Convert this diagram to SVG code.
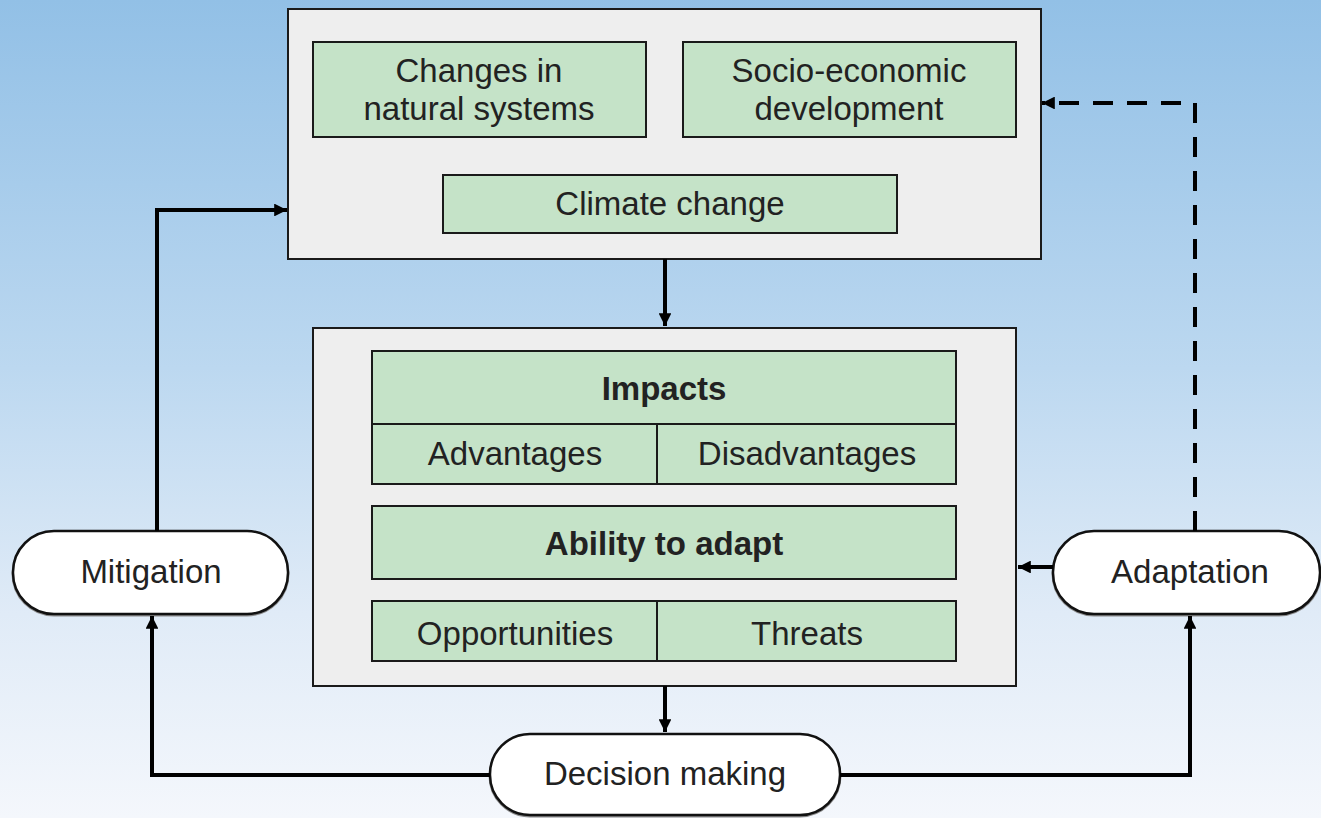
<svg xmlns="http://www.w3.org/2000/svg" width="1321" height="818" viewBox="0 0 1321 818">
  <defs>
    <linearGradient id="sky" x1="0" y1="0" x2="0" y2="1">
      <stop offset="0" stop-color="#92c0e6"/>
      <stop offset="0.45" stop-color="#bcd8f0"/>
      <stop offset="0.75" stop-color="#e0ebf7"/>
      <stop offset="1" stop-color="#f4f7fc"/>
    </linearGradient>
    <marker id="arrow" viewBox="0 0 10 10" refX="10" refY="5" markerWidth="3.2" markerHeight="3.2" markerUnits="strokeWidth" orient="auto">
      <path d="M0,0 L10,5 L0,10 z" fill="#000"/>
    </marker>
    <style>
      .container { fill: #eeeeee; stroke: #1a1a1a; stroke-width: 2; }
      .cell { fill: #c5e3c8; stroke: #1a1a1a; stroke-width: 2; }
      .pill { fill: #ffffff; stroke: #111; stroke-width: 2.5; }
      .pill-shadow { fill: none; stroke: #8a8a8a; stroke-width: 3; }
      .label { font-family: "Liberation Sans", Arial, sans-serif; font-size: 33px; fill: #222; text-anchor: middle; }
      .bold { font-weight: bold; }
      .conn { fill: none; stroke: #000; stroke-width: 4; }
      .dashed { stroke-dasharray: 20 14; }
    </style>
  </defs>

  <rect x="0" y="0" width="1321" height="818" fill="url(#sky)"/>

  <!-- Drivers block -->
  <g id="drivers">
    <rect class="container" x="288" y="9" width="753" height="250"/>
    <g id="natural-systems">
      <rect class="cell" x="313" y="42" width="333" height="95"/>
      <text class="label" x="479" y="82">Changes in</text>
      <text class="label" x="479" y="120">natural systems</text>
    </g>
    <g id="socio-economic">
      <rect class="cell" x="683" y="42" width="333" height="95"/>
      <text class="label" x="849" y="82">Socio-economic</text>
      <text class="label" x="849" y="120">development</text>
    </g>
    <g id="climate-change">
      <rect class="cell" x="443" y="175" width="454" height="58"/>
      <text class="label" x="670" y="215">Climate change</text>
    </g>
  </g>

  <!-- Assessment block -->
  <g id="assessment">
    <rect class="container" x="313" y="328" width="703" height="358"/>
    <g id="impacts">
      <rect class="cell" x="372" y="351" width="584" height="73"/>
      <text class="label bold" x="664" y="400">Impacts</text>
      <rect class="cell" x="372" y="424" width="285" height="60"/>
      <rect class="cell" x="657" y="424" width="299" height="60"/>
      <text class="label" x="515" y="465">Advantages</text>
      <text class="label" x="807" y="465">Disadvantages</text>
    </g>
    <g id="ability">
      <rect class="cell" x="372" y="506" width="584" height="73"/>
      <text class="label bold" x="664" y="555">Ability to adapt</text>
    </g>
    <g id="outcomes">
      <rect class="cell" x="372" y="601" width="285" height="60"/>
      <rect class="cell" x="657" y="601" width="299" height="60"/>
      <text class="label" x="515" y="645">Opportunities</text>
      <text class="label" x="807" y="645">Threats</text>
    </g>
  </g>

  <!-- Response nodes -->
  <g id="mitigation">
    <rect class="pill-shadow" x="13" y="533" width="275" height="82" rx="41"/>
    <rect class="pill" x="13" y="531" width="275" height="83" rx="41"/>
    <text class="label" x="151" y="583">Mitigation</text>
  </g>
  <g id="adaptation">
    <rect class="pill-shadow" x="1053" y="533" width="267" height="82" rx="41"/>
    <rect class="pill" x="1053" y="531" width="267" height="83" rx="41"/>
    <text class="label" x="1190" y="583">Adaptation</text>
  </g>
  <g id="decision-making">
    <rect class="pill-shadow" x="490" y="736" width="350" height="80" rx="40"/>
    <rect class="pill" x="490" y="734" width="350" height="81" rx="40"/>
    <text class="label" x="665" y="785">Decision making</text>
  </g>

  <!-- Connectors -->
  <g id="connectors">
    <path class="conn" d="M665,259 V326" marker-end="url(#arrow)"/>
    <path class="conn" d="M665,686 V732" marker-end="url(#arrow)"/>
    <path class="conn" d="M490,775 H152 V616" marker-end="url(#arrow)"/>
    <path class="conn" d="M840,775 H1190 V616" marker-end="url(#arrow)"/>
    <path class="conn" d="M157,531 V210 H287" marker-end="url(#arrow)"/>
    <path class="conn" d="M1053,567 H1018" marker-end="url(#arrow)"/>
    <path class="conn dashed" d="M1195,531 V103 H1042" marker-end="url(#arrow)"/>
  </g>
</svg>
